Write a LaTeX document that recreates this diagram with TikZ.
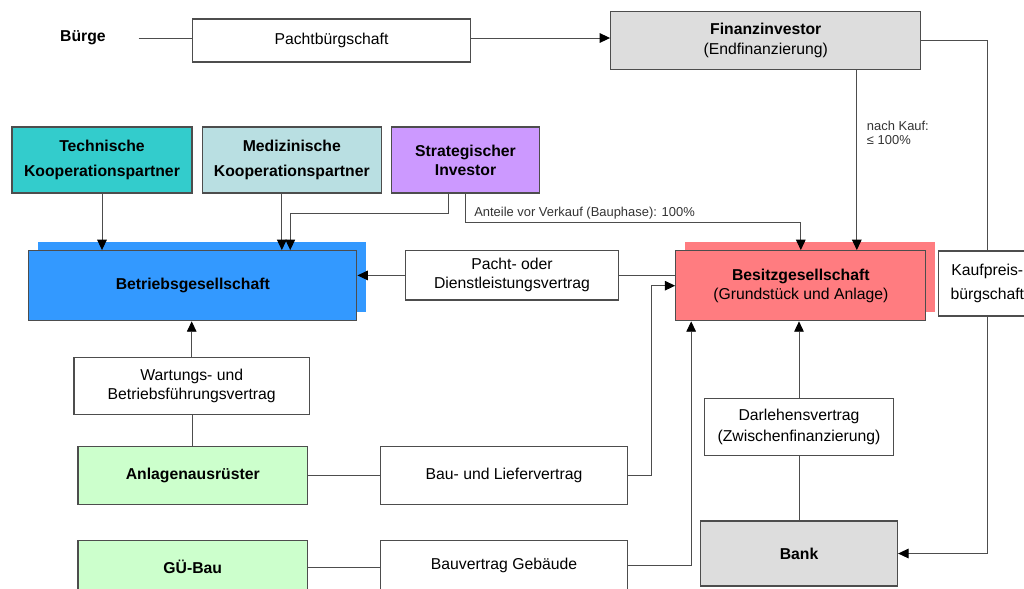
\documentclass[tikz,border=0pt]{standalone}
\usepackage{fontspec}
\setmainfont{Liberation Sans}
\usepackage{tikz}
\usetikzlibrary{arrows.meta, positioning}

\definecolor{frame}{HTML}{4D4D4D}
\definecolor{wire}{HTML}{4D4D4D}
\definecolor{notegray}{HTML}{333333}
\definecolor{greybox}{HTML}{DDDDDD}
\definecolor{tealbox}{HTML}{33CCCC}
\definecolor{paleblue}{HTML}{B9DFE2}
\definecolor{lilac}{HTML}{CC99FF}
\definecolor{opblue}{HTML}{3399FF}
\definecolor{ownred}{HTML}{FF7C80}
\definecolor{palegreen}{HTML}{CCFFCC}

\begin{document}
\begin{tikzpicture}[
		x=0.025cm, y=-0.025cm,
		>={Triangle[length=0.26cm, width=0.24cm, color=black]},
		base/.style={inner sep=0pt, align=center, font=\fontsize{11.2}{13.5}\selectfont},
		party/.style={base, draw=frame, line width=0.9pt},
		contract/.style={base, draw=frame, fill=white, line width=0.9pt},
		boxsize/.style 2 args={minimum width=#1*0.025cm, minimum height=#2*0.025cm},
		wide/.style={font=\fontsize{11.2}{17.8}\selectfont\bfseries},
		note/.style={inner sep=0pt, align=left, font=\fontsize{9.2}{10}\selectfont, text=notegray},
		wire/.style={draw=wire, line width=0.7pt}
		]
		
		\useasboundingbox (0,0) rectangle (1024,588);
		\clip (0,0) rectangle (1024,588);
		
		% Top row
		\node[base, font=\fontsize{11.2}{13.5}\selectfont\bfseries] (buerge) at (83,38) {Bürge};
		\node[contract, boxsize={278}{43}] (pachtb) at (331.5,40.5) {Pachtbürgschaft};
		\node[party, fill=greybox, boxsize={310}{57.6}, font=\fontsize{11.2}{14.2}\selectfont] (finanz) at (765.7,40.5) {\textbf{Finanzinvestor}\\(Endfinanzierung)};
		
		% Partners
		\node[party, wide, fill=tealbox, boxsize={180}{66}] (technische) at (102,160) {Technische\\Kooperationspartner};
		\node[party, wide, fill=paleblue, boxsize={179}{66}, right=0.225cm of technische] (medizin) {Medizinische\\Kooperationspartner};
		\node[party, font=\fontsize{11.2}{13.5}\selectfont\bfseries, fill=lilac, boxsize={148}{66}, right=0.225cm of medizin] (strateg) {Strategischer\\Investor};
		
		% Companies (shadow first)
		\node[fill=opblue, boxsize={328}{70}] (betriebshadow) at (201.8,276.7) {};
		\node[fill=ownred, boxsize={250}{70}] (besitzshadow) at (809.8,276.7) {};
		\node[party, fill=opblue, boxsize={328}{70}, font=\fontsize{11.2}{13.5}\selectfont\bfseries] (betrieb) at (192.8,285.7) {Betriebsgesellschaft};
		\node[party, fill=ownred, boxsize={250}{70}] (besitz) at (800.8,285.7) {\textbf{Besitzgesellschaft}\\(Grundstück und Anlage)};
		
		% Contracts
		\node[contract, boxsize={212.6}{49.3}] (pacht) at (512,275.4) {Pacht- oder\\Dienstleistungsvertrag};
		\node[contract, boxsize={98}{65}, font=\fontsize{11.2}{16.6}\selectfont] (kaufpreis) at (987.3,283.5) {Kaufpreis-\\bürgschaft};
		\node[contract, boxsize={235.4}{57}] (wartung) at (191.7,385.8) {Wartungs- und\\Betriebsführungsvertrag};
		\node[contract, boxsize={246.4}{57.6}] (bauliefer) at (504,475.5) {Bau- und Liefervertrag};
		\node[contract, boxsize={246.4}{49}] (bauvertrag) at (504,565) {Bauvertrag Gebäude};
		\node[contract, boxsize={189}{57.4}, font=\fontsize{11.2}{15.2}\selectfont] (darlehen) at (799,427) {Darlehensvertrag\\(Zwischenfinanzierung)};
		
		% Bottom parties
		\node[party, fill=palegreen, boxsize={229.6}{57.6}, font=\fontsize{11.2}{13.5}\selectfont\bfseries] (anlagen) at (192.8,475.5) {Anlagenausrüster};
		\node[party, fill=palegreen, boxsize={229.6}{52.6}, font=\fontsize{11.2}{13.5}\selectfont\bfseries] (guebau) at (192.8,567) {GÜ-Bau};
		\node[party, fill=greybox, boxsize={197}{65}, font=\fontsize{11.2}{13.5}\selectfont\bfseries] (bank) at (799,553.5) {Bank};
		
		% Labels on lines
		\node[note, anchor=west] (anteile) at (474,213.5) {Anteile vor Verkauf (Bauphase): 100\%};
		\node[note, anchor=west] (nachkauf) at (866.7,133) {nach Kauf:\\≤ 100\%};
		
		% Free ends on the boxes
		\coordinate (medtip) at ([xshift=6.34cm]betrieb.north west);
		\coordinate (strtip) at ([xshift=6.55cm]betrieb.north west);
		\coordinate (kauftip) at ([xshift=1.4cm]besitz.north);
		\coordinate (bvtip) at ([xshift=0.4cm]besitz.south west);
		
		% Arrows
		\draw[wire] ([xshift=0.815cm]buerge.east) -- (buerge -| pachtb.west);
		\draw[wire, ->] (pachtb.east |- buerge) -- (finanz.west |- buerge);
		\draw[wire] (finanz.east) -| (kaufpreis.north);
		\draw[wire, ->] (kaufpreis.south) |- (bank.east);
		\draw[wire, ->] (finanz.south -| kauftip) -- (kauftip);
		
		\draw[wire, ->] (technische.south) -- (technische.south |- betrieb.north);
		\draw[wire, ->] (medizin.south -| medtip) -- (medtip);
		\draw[wire, ->] ([xshift=1.44cm]strateg.south west) -- ++(0,20) -| (strtip);
		\draw[wire, ->] (strateg.south) -- ++(0,28.7) -| (besitz.north);
		
		\draw[wire] (besitz.west |- pacht.east) -- (pacht.east);
		\draw[wire, ->] (pacht.west) -- (pacht.west -| betrieb.east);
		
		\draw[wire] (anlagen.north) -- (anlagen.north |- wartung.south);
		\draw[wire, ->] (wartung.north) -- (wartung.north |- betrieb.south);
		\draw[wire] (anlagen.east) -- (anlagen.east -| bauliefer.west);
		\draw[wire, ->] (bauliefer.east) -- ++(24,0) |- (besitz.west);
		\draw[wire] (guebau.east) -- (guebau.east -| bauvertrag.west);
		\draw[wire, ->] (bauvertrag.east) -| (bvtip);
		
		\draw[wire] (bank.north) -- (bank.north |- darlehen.south);
		\draw[wire, ->] (darlehen.north) -- (darlehen.north |- besitz.south);
		
	\end{tikzpicture}
\end{document}
